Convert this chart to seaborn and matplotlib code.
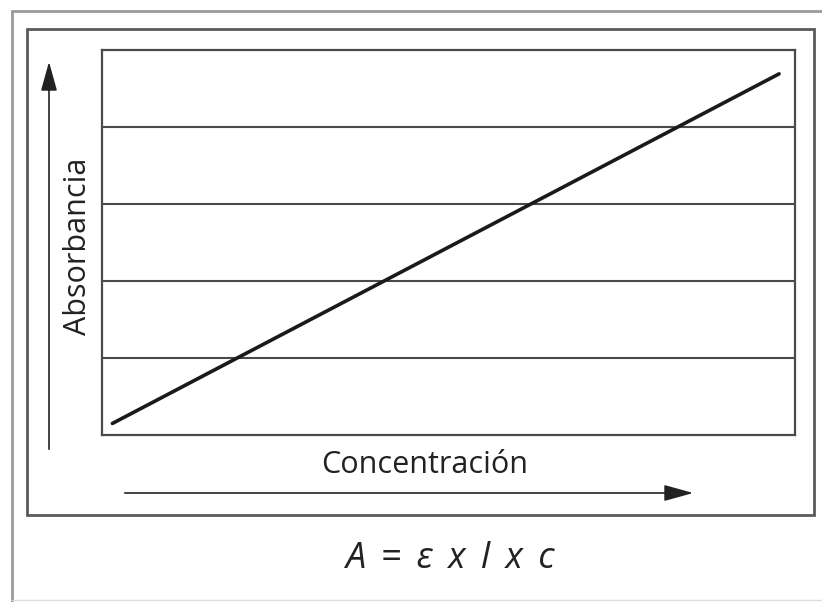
import numpy as np
import pandas as pd
import matplotlib
matplotlib.use("Agg")
import matplotlib.pyplot as plt
import seaborn as sns
from matplotlib.patches import Rectangle, FancyArrowPatch
from matplotlib.lines import Line2D

# data: straight line of Beer-Lambert law
concentracion = [0.15, 9.77]
absorbancia = [0.15, 4.69]
niveles = [1, 2, 3, 4]

sns.set_style("white")
plt.rcParams['font.family'] = ['Open Sans', 'DejaVu Sans']

W, H = 822, 602
fig = plt.figure(figsize=(W / 100, H / 100), dpi=100)

def fx(px):
    return px / W

def fy(py):
    # pixel from top -> figure fraction from bottom
    return 1 - py / H

# frames
fig.add_artist(Line2D([fx(12), fx(12)], [fy(11), fy(602)], color="#9a9a9a", lw=2))
fig.add_artist(Line2D([fx(12), fx(822)], [fy(11), fy(11)], color="#9a9a9a", lw=2))
fig.add_artist(Line2D([fx(12), fx(822)], [fy(600), fy(600)], color="#dddddd", lw=1))
fig.add_artist(Rectangle((fx(27), fy(515)), fx(814) - fx(27), fy(29) - fy(515),
                         fill=False, edgecolor="#5a5a5a", lw=2))

ax = fig.add_axes([fx(102), fy(435), fx(795) - fx(102), fy(50) - fy(435)])
df = pd.DataFrame({"Concentración": concentracion, "Absorbancia": absorbancia})
sns.lineplot(data=df, x="Concentración", y="Absorbancia", ax=ax, color="#1a1a1a", lw=2.6)
ax.set_xlim(0, 10)
ax.set_ylim(0, 5)
for n in niveles:
    ax.axhline(n, color="#4a4a4a", lw=1.5, zorder=0)
ax.set_xticks([])
ax.set_yticks([])
ax.set_xlabel("")
ax.set_ylabel("")
for s in ax.spines.values():
    s.set_color("#4a4a4a")
    s.set_linewidth(1.6)
    s.set_visible(True)

# axis arrows
estilo = "-|>,head_length=18,head_width=5"
fig.add_artist(FancyArrowPatch(
    (fx(49), fy(452)), (fx(49), fy(59)), transform=fig.transFigure,
    arrowstyle=estilo, color="#222222", lw=1.2))
fig.add_artist(FancyArrowPatch(
    (fx(122), fy(493)), (fx(696), fy(493)), transform=fig.transFigure,
    arrowstyle=estilo, color="#222222", lw=1.2))

fig.text(fx(425), fy(465), "Concentración", ha="center", va="center",
         fontsize=22, color="#222222")
fig.text(fx(78), fy(246), "Absorbancia", ha="center", va="center",
         rotation=90, fontsize=22, color="#222222")
formula = "\u2009 ".join(["A", "=", "ε", "x", "l", "x", "c"])
fig.text(fx(450), fy(559), formula, ha="center", va="center",
         fontsize=26, style="italic", color="#222222")

fig.savefig("out.png", dpi=100)
